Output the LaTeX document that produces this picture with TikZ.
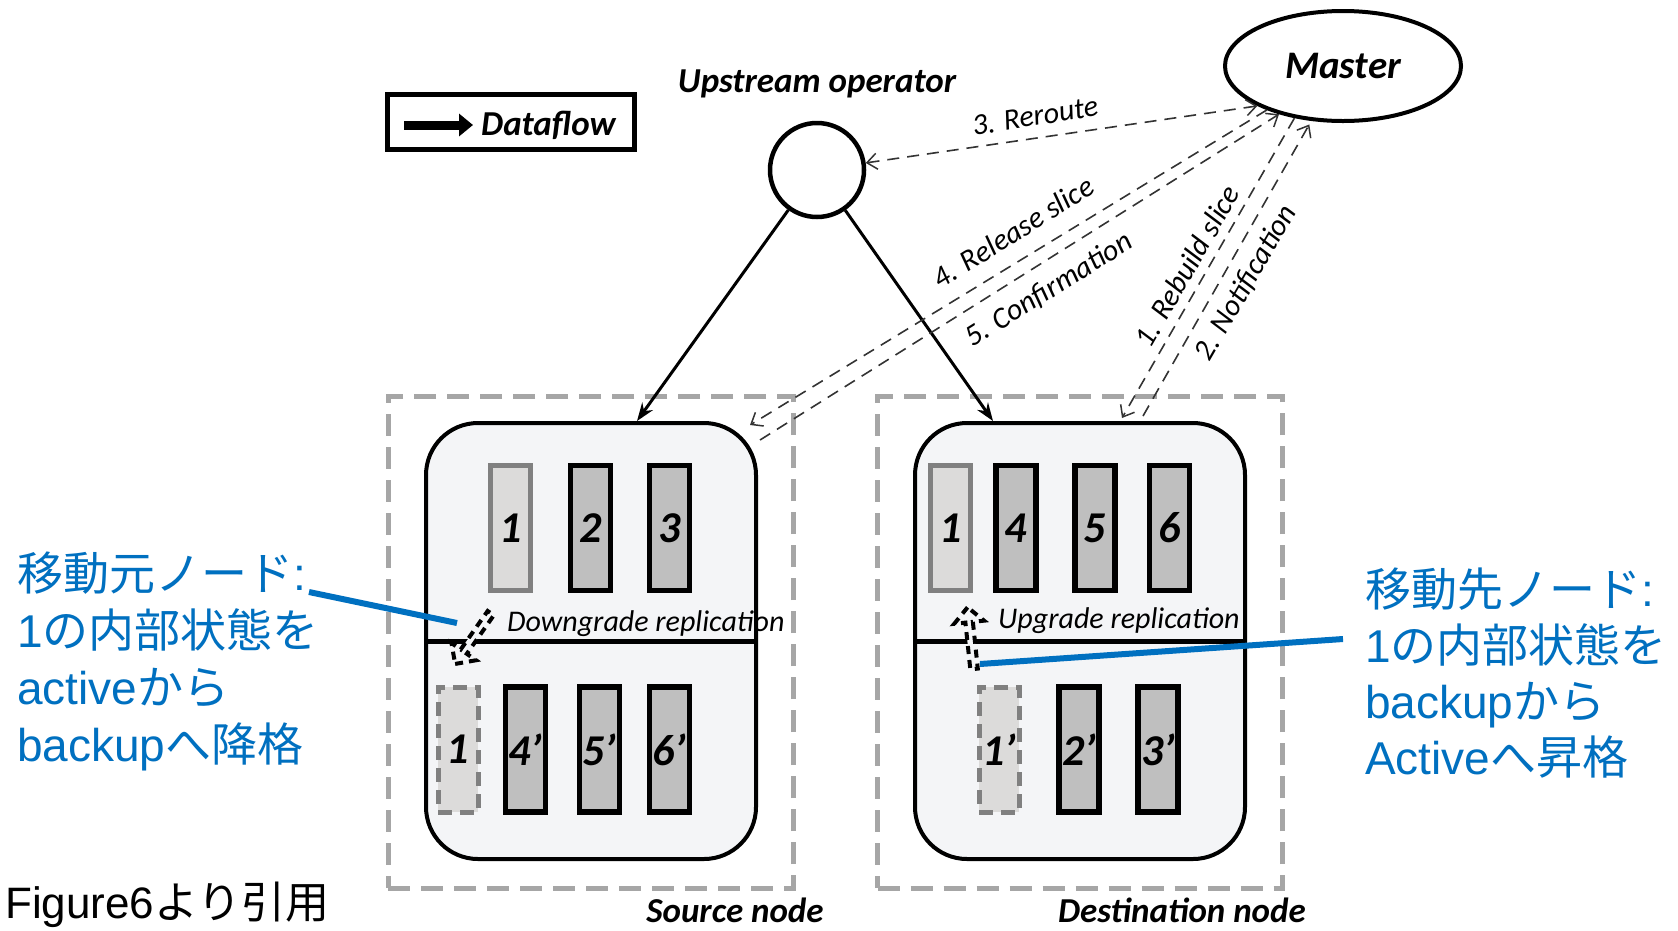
\documentclass[tikz,border=0pt]{standalone}
\usepackage{fontspec}
\usetikzlibrary{arrows.meta,shapes.geometric,shapes.arrows,calc}
\newfontfamily\calfont{Carlito}
\newfontfamily\jpfont{Noto Sans CJK JP}
\newfontfamily\arialfont{Liberation Sans}
\definecolor{jblue}{HTML}{0070C0}
\definecolor{outergray}{HTML}{A6A6A6}
\definecolor{nodefill}{HTML}{F4F5F7}
\definecolor{slotfill}{HTML}{BFBFBF}
\definecolor{lightslot}{HTML}{DCDBDA}
\definecolor{slotgray}{HTML}{808080}
\definecolor{ctrlcol}{HTML}{333333}
\begin{document}
\begin{tikzpicture}[x=1pt,y=-1pt,
  outerbox/.style={draw=outergray, line width=5pt, dash pattern=on 22pt off 11pt, minimum width=405pt, minimum height=492pt, inner sep=0},
  opnode/.style={draw, line width=4pt, fill=nodefill, rounded corners=52pt, minimum width=330pt, minimum height=436pt, inner sep=0},
  slotnum/.style={font=\calfont\bfseries\itshape\fontsize{44}{44}\selectfont, inner sep=0, minimum width=40pt, minimum height=125pt},
  slot/.style={slotnum, draw, line width=5.5pt, fill=slotfill},
  activeslot/.style={slotnum, draw=slotgray, line width=5pt, fill=lightslot},
  backslot/.style={slotnum, draw=slotgray, line width=5pt, fill=lightslot, dash pattern=on 14pt off 8pt},
  titlefont/.style={font=\calfont\bfseries\itshape\fontsize{35}{35}\selectfont, inner sep=0},
  lbl/.style={font=\calfont\itshape\fontsize{30}{30}\selectfont, inner sep=0},
  replbl/.style={font=\calfont\itshape\fontsize{30}{30}\selectfont, inner sep=0},
  flow/.style={line width=3pt, -{Stealth[length=18pt,width=13pt]}},
  ctrl/.style={draw=ctrlcol, line width=1.6pt, dash pattern=on 12pt off 8pt},
  barb/.tip={Straight Barb[length=10pt,width=16pt,line width=1.5pt]},
  reparrow/.style={single arrow, draw=black, fill=nodefill, line width=4pt, dash pattern=on 8pt off 6pt, minimum height=62pt, minimum width=30pt, single arrow head extend=6pt, inner sep=0},
  jptext/.style={font=\fontsize{46}{56}\selectfont, text=jblue, anchor=base west, inner sep=0},
  bluelink/.style={draw=jblue, line width=6pt}
]
\useasboundingbox (0,0) rectangle (1678,930);
\fill[white] (0,0) rectangle (1678,930);

% outer dashed boxes
\node[outerbox] (srcbox) at (590.5,642) {};
\node[outerbox] (dstbox) at (1080,642) {};

% operator instances
\node[opnode] (src) at (591,641) {};
\node[opnode] (dst) at (1080,641) {};
\draw[line width=5pt] (src.west) -- (src.east);
\draw[line width=5pt] (dst.west) -- (dst.east);

% source slots
\node[activeslot] (s1) at (510.5,528) {1};
\node[slot] (s2) at (590.5,528) {2};
\node[slot] (s3) at (669.5,528) {3};
\node[backslot] (s1b) at (458,749.5) {1};
\node[slot] (s4b) at (525.5,749.5) {4’};
\node[slot] (s5b) at (599.5,749.5) {5’};
\node[slot] (s6b) at (669.5,749.5) {6’};

% destination slots
\node[activeslot] (d1) at (950.5,528) {1};
\node[slot] (d4) at (1016,528) {4};
\node[slot] (d5) at (1095,528) {5};
\node[slot] (d6) at (1169.5,528) {6};
\node[backslot] (d1b) at (999,749.5) {1’};
\node[slot] (d2b) at (1079,749.5) {2’};
\node[slot] (d3b) at (1158,749.5) {3’};

% replication arrows and labels
\node[reparrow, rotate=235] (down) at (474,637) {};
\node[reparrow, rotate=96] (upg) at (971,640) {};
\node[replbl, anchor=base west] (dgl) at (507,631) {Downgrade replication};
\node[replbl, anchor=base west] (ugl) at (998,628) {Upgrade replication};

% legend
\node[draw, line width=5pt, minimum width=247pt, minimum height=55pt, inner sep=0] (legend) at (511,122) {};
\node[font=\calfont\bfseries\itshape\fontsize{35}{35}\selectfont, inner sep=0, anchor=west] (dftxt) at (481,125) {Dataflow};
\coordinate (dfa) at (404,125);
\draw[line width=9pt, -{Triangle[length=14pt,width=22pt]}] (dfa) -- ($(dftxt.west)+(-8,0)$);

% upstream operator and master
\node[circle, draw, line width=4.5pt, minimum size=94pt, inner sep=0] (up) at (817,170) {};
\node[titlefont] (uplbl) at (817,84) {Upstream operator};
\node[ellipse, draw, line width=4pt, minimum width=236pt, minimum height=110pt, inner sep=0, font=\calfont\bfseries\itshape\fontsize{39}{39}\selectfont] (master) at (1343,66) {Master};

% dataflow
\draw[flow] (up) -- ($(src.north)+(46,0)$);
\draw[flow] (up) -- ($(dst.north)+(-87,0)$);

% control messages
\draw[ctrl, {barb}-{barb}] (master.205) -- (up);
\draw[ctrl, -{barb}] (master.210) -- ($(src.north east)+(-8,4)$);
\draw[ctrl, -{barb}] ($(src.north east)+(2,19)$) -- (master.217);
\draw[ctrl, -{barb}] (master.227) -- ($(dst.north)+(42,-3)$);
\draw[ctrl, -{barb}, shorten >=4pt] ($(dst.north)+(63,-5)$) -- (master.240);

\node[lbl, rotate=9] (l3) at (1035,116) {3. Reroute};
\node[lbl, rotate=32] (l4) at (1013,232) {4. Release slice};
\node[lbl, rotate=32] (l5) at (1049,290) {5. Confirmation};
\node[lbl, rotate=60] (l1) at (1187,266) {1. Rebuild slice};
\node[lbl, rotate=60] (l2) at (1246,283) {2. Notification};

% node titles
\node[titlefont, anchor=base] (srcl) at (735,922) {Source node};
\node[titlefont, anchor=base] (dstl) at (1182,922) {Destination node};

% Japanese annotations
\node[jptext] (la1) at (17,590) {{\jpfont 移動元ノード}{\arialfont :}};
\node[jptext] (la2) at (17,647) {{\arialfont 1}{\jpfont の内部状態を}};
\node[jptext] (la3) at (17,704) {{\arialfont active}{\jpfont から}};
\node[jptext] (la4) at (17,761) {{\arialfont backup}{\jpfont へ降格}};

\node[jptext] (ra1) at (1365,606) {{\jpfont 移動先ノード}{\arialfont :}};
\node[jptext] (ra2) at (1365,662) {{\arialfont 1}{\jpfont の内部状態を}};
\node[jptext] (ra3) at (1365,718) {{\arialfont backup}{\jpfont から}};
\node[jptext] (ra4) at (1365,774) {{\arialfont Active}{\jpfont へ昇格}};

\coordinate (lb1) at (309,592);
\coordinate (lb2) at (457,623);
\coordinate (rb1) at (1343,639);
\coordinate (rb2) at (980,664);
\draw[bluelink] (lb1) -- (lb2);
\draw[bluelink] (rb1) -- (rb2);

\node[font=\fontsize{44}{44}\selectfont, anchor=base west, inner sep=0] (fig) at (5,918) {{\arialfont Figure6}{\jpfont より引用}};
\end{tikzpicture}
\end{document}
